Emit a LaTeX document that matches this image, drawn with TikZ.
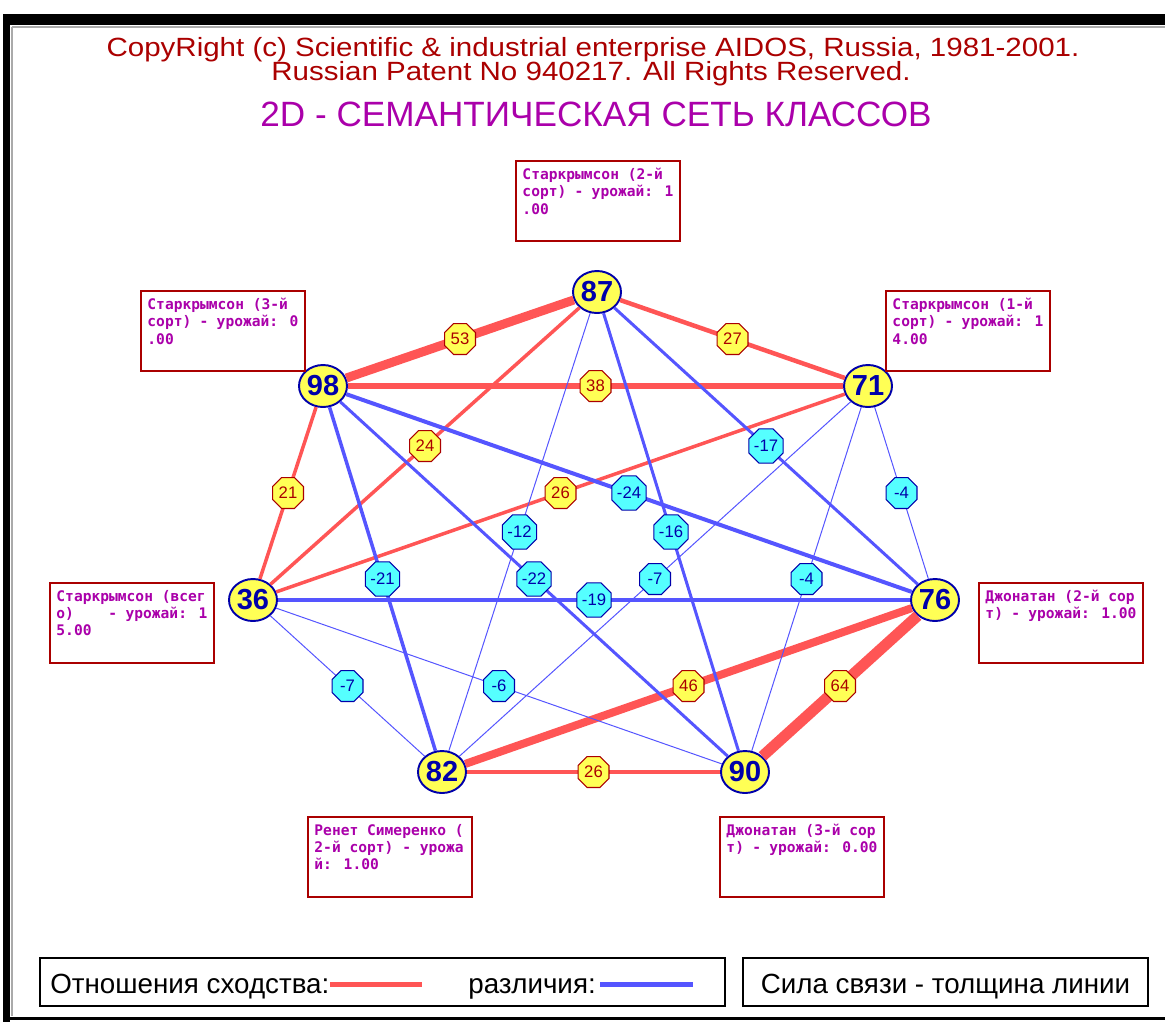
\documentclass[tikz,border=0pt]{standalone}
\usepackage{fontspec}
\setmainfont{Liberation Sans}
\newfontfamily\copyfont[FakeStretch=1.12]{Liberation Sans}
\newfontfamily\boxfont{DejaVu Sans Mono}
\usetikzlibrary{calc,positioning,shapes.geometric}
\definecolor{egaRed}   {HTML}{FF5555}
\definecolor{egaBlue}  {HTML}{5555FF}
\definecolor{egaYellow}{HTML}{FFFF55}
\definecolor{egaCyan}  {HTML}{55FFFF}
\definecolor{egaNavy}  {HTML}{0000AA}
\definecolor{egaMaroon}{HTML}{AA0000}
\definecolor{egaPurple}{HTML}{AA00AA}
\definecolor{egaGray}  {HTML}{AAAAAA}

\newcommand{\classtext}[1]{\parbox[c][1.32cm][t]{3.02cm}{#1}}

\begin{document}
\begin{tikzpicture}[x=0.02cm, y=-0.02cm,
        every node/.style={inner sep=0pt},
        cls/.style={ellipse, draw=egaNavy, line width=1.1pt, fill=egaYellow, minimum width=0.96cm, minimum height=0.84cm, text=egaNavy, font=\bfseries\fontsize{16.5}{16.5}\selectfont},
        lbl/.style={draw=egaMaroon, line width=1.1pt, fill=white, anchor=north west, inner xsep=0.13cm, inner ysep=0.14cm, text=egaPurple, font=\boxfont\bfseries\fontsize{8.3}{9.9}\selectfont},
        sim/.style={draw=egaRed, line width=#1*0.02cm},
        dif/.style={draw=egaBlue, line width=#1*0.02cm},
        simw/.style={regular polygon, regular polygon sides=8, minimum size=0.67cm, draw=egaMaroon, line width=0.6pt, fill=egaYellow, text=egaMaroon, font=\fontsize{9.5}{9.5}\selectfont},
        difw/.style={simw, draw=egaNavy, fill=egaCyan, text=egaNavy},
        legbox/.style={draw=black, line width=1.2pt, minimum height=0.96cm},
        legtxt/.style={anchor=base west, font=\fontsize{15.8}{15.8}\selectfont}
    ]
    \useasboundingbox (0,0) rectangle (1165,1022);
    % window frame
    \fill[black] (3,14) rectangle (1165,25);
    \fill[black] (3,14) rectangle (10,1022);
    \draw[egaGray, line width=0.04cm] (12,27) -- (1165,27);
    \draw[egaGray, line width=0.04cm] (12,27) -- (12,1016);
    \draw[black, line width=0.06cm] (10,1018) -- (1165,1018);

    % headings
    \node[anchor=base, text=egaMaroon, font=\copyfont\fontsize{15}{15}\selectfont] (copy) at (593,56) {CopyRight (c) Scientific \& industrial enterprise AIDOS, Russia, 1981-2001.};
    \node[anchor=base, text=egaMaroon, font=\copyfont\fontsize{15}{15}\selectfont] (patent) at (591,80) {Russian Patent No 940217. All Rights Reserved.};
    \node[anchor=base, text=egaPurple, font=\fontsize{20}{20}\selectfont] (title) at (596,126) {2D - СЕМАНТИЧЕСКАЯ СЕТЬ КЛАССОВ};

    % classes
    \node[cls] (n87) at (597,292) {87};
    \node[cls] (n71) at (868,386) {71};
    \node[cls] (n76) at (935,600) {76};
    \node[cls] (n90) at (745,772) {90};
    \node[cls] (n82) at (442,772) {82};
    \node[cls] (n36) at (253,600) {36};
    \node[cls] (n98) at (323,386) {98};

    % class names
    \node[lbl] (c87) at (515,160) {\classtext{Старкрымсон (2-й\\сорт) - урожай: 1\\.00}};
    \node[lbl] (c98) at (140,290) {\classtext{Старкрымсон (3-й\\сорт) - урожай: 0\\.00}};
    \node[lbl] (c71) at (885,290) {\classtext{Старкрымсон (1-й\\сорт) - урожай: 1\\4.00}};
    \node[lbl] (c36) at (49,582) {\classtext{Старкрымсон (всег\\о)\ \ \ \ - урожай: 1\\5.00}};
    \node[lbl] (c76) at (978,582) {\classtext{Джонатан (2-й сор\\т) - урожай: 1.00}};
    \node[lbl] (c82) at (307,816) {\classtext{Ренет Симеренко (\\2-й сорт) - урожа\\й: 1.00}};
    \node[lbl] (c90) at (719,816) {\classtext{Джонатан (3-й сор\\т) - урожай: 0.00}};

    % similarity
    \draw[sim=9]   (n98) -- node[simw] (e98x87) {53} (n87);
    \draw[sim=4.5] (n87) -- node[simw] (e87x71) {27} (n71);
    \draw[sim=6]   (n98) -- node[simw] (e98x71) {38} (n71);
    \draw[sim=3.5] (n98) -- node[simw] (e98x36) {21} (n36);
    \draw[sim=3.5] (n87) -- node[simw] (e87x36) {24} (n36);
    \draw[sim=3.5] (n71) -- node[simw] (e71x36) {26} (n36);
    \draw[sim=8]   (n76) -- node[simw] (e76x82) {46} (n82);
    \draw[sim=11]  (n76) -- node[simw] (e76x90) {64} (n90);
    \draw[sim=3.5] (n82) -- node[simw] (e82x90) {26} (n90);
    % difference
    \draw[dif=1]   (n87) -- node[difw] (e87x82) {-12} (n82);
    \draw[dif=3]   (n87) -- node[difw] (e87x90) {-16} (n90);
    \draw[dif=3]   (n87) -- node[difw] (e87x76) {-17} (n76);
    \draw[dif=4]   (n98) -- node[difw] (e98x76) {-24} (n76);
    \draw[dif=3.5] (n98) -- node[difw] (e98x82) {-21} (n82);
    \draw[dif=3]   (n98) -- node[difw] (e98x90) {-22} (n90);
    \draw[dif=1]   (n71) -- node[difw] (e71x76) {-4} (n76);
    \draw[dif=1]   (n71) -- node[difw] (e71x82) {-7} (n82);
    \draw[dif=1]   (n71) -- node[difw] (e71x90) {-4} (n90);
    \draw[dif=3.5] (n36) -- node[difw] (e36x76) {-19} (n76);
    \draw[dif=1]   (n36) -- node[difw] (e36x82) {-7} (n82);
    \draw[dif=1]   (n36) -- node[difw] (e36x90) {-6} (n90);

    % legend
    \node[legbox, minimum width=13.7cm] (leg1) at (382.5,982) {};
    \node[legtxt] (simtxt) at (50,993) {Отношения сходства:};
    \coordinate (sim0) at (330,984);
    \coordinate (sim1) at (422,984);
    \node[legtxt] (diftxt) at (468,993) {различия:};
    \coordinate (dif0) at (600,984);
    \coordinate (dif1) at (693,984);
    \draw[sim=5] (sim0) -- (sim1);
    \draw[dif=5] (dif0) -- (dif1);
    \node[legbox, minimum width=8.1cm] (leg2) at (945.5,982) {};
    \node[legtxt, anchor=base] (strength) at (945.5,993) {Сила связи - толщина линии};
\end{tikzpicture}
\end{document}
